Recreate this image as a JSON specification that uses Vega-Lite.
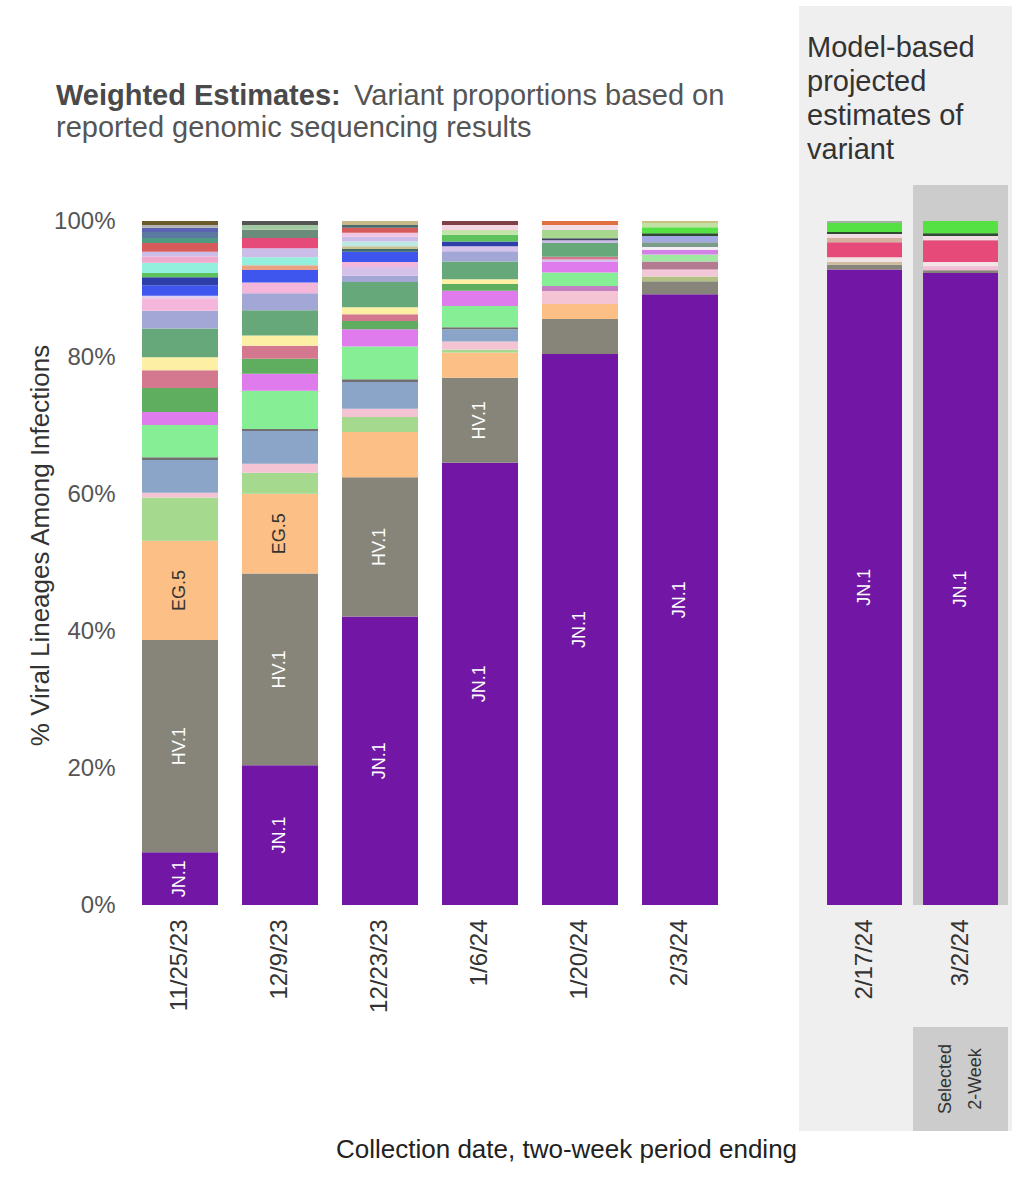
{
  "$schema": "https://vega.github.io/schema/vega-lite/v6.json",
  "background": "white",
  "padding": {"left": 27, "top": 6, "right": 0, "bottom": 8},
  "autosize": {"type": "pad"},
  "spacing": 69,
  "config": {
    "font": "Liberation Sans",
    "view": {"stroke": null},
    "axis": {"labelFont": "Liberation Sans", "titleFont": "Liberation Sans"},
    "title": {"font": "Liberation Sans", "subtitleFont": "Liberation Sans"}
  },
  "title": {"text": "Collection date, two-week period ending", "orient": "bottom", "anchor": "start", "frame": "group", "fontSize": 26, "fontWeight": "normal", "color": "#222222", "offset": 6, "dx": 206},
  "datasets": {
    "props": [
      {"date": "11/25/23", "variant": "JN.1", "pct": 7.7},
      {"date": "11/25/23", "variant": "HV.1", "pct": 31.0},
      {"date": "11/25/23", "variant": "EG.5", "pct": 14.5},
      {"date": "11/25/23", "variant": "FL.1.5.1", "pct": 6.3},
      {"date": "11/25/23", "variant": "EG.6.1", "pct": 0.7},
      {"date": "11/25/23", "variant": "HK.3", "pct": 4.8},
      {"date": "11/25/23", "variant": "XBB.1.16.6", "pct": 0.4},
      {"date": "11/25/23", "variant": "JD.1.1", "pct": 4.7},
      {"date": "11/25/23", "variant": "HF.1", "pct": 1.9},
      {"date": "11/25/23", "variant": "GK.1.1", "pct": 3.5},
      {"date": "11/25/23", "variant": "XBB.1.16", "pct": 2.6},
      {"date": "11/25/23", "variant": "XBB.2.3", "pct": 1.9},
      {"date": "11/25/23", "variant": "XBB.1.5", "pct": 4.2},
      {"date": "11/25/23", "variant": "EG.5.1.8", "pct": 2.6},
      {"date": "11/25/23", "variant": "HV.1.2", "pct": 1.8},
      {"date": "11/25/23", "variant": "XBB.1.5.70", "pct": 0.4},
      {"date": "11/25/23", "variant": "BA.2.86.1", "pct": 1.5},
      {"date": "11/25/23", "variant": "JF.1", "pct": 1.2},
      {"date": "11/25/23", "variant": "JD.1.1.1", "pct": 0.6},
      {"date": "11/25/23", "variant": "XBB.1.9.1", "pct": 1.5},
      {"date": "11/25/23", "variant": "GS.4.1", "pct": 0.9},
      {"date": "11/25/23", "variant": "DV.7.1", "pct": 0.7},
      {"date": "11/25/23", "variant": "XBB.1.42.2", "pct": 1.3},
      {"date": "11/25/23", "variant": "EG.5.1.6", "pct": 0.7},
      {"date": "11/25/23", "variant": "HK.3.2", "pct": 0.9},
      {"date": "11/25/23", "variant": "JN.1.3", "pct": 0.6},
      {"date": "11/25/23", "variant": "EG.5.1.4", "pct": 0.4},
      {"date": "11/25/23", "variant": "XBB.1.16.1", "pct": 0.6},

      {"date": "12/9/23", "variant": "JN.1", "pct": 20.5},
      {"date": "12/9/23", "variant": "HV.1", "pct": 28.1},
      {"date": "12/9/23", "variant": "EG.5", "pct": 11.7},
      {"date": "12/9/23", "variant": "FL.1.5.1", "pct": 3.1},
      {"date": "12/9/23", "variant": "EG.6.1", "pct": 1.3},
      {"date": "12/9/23", "variant": "HK.3", "pct": 4.8},
      {"date": "12/9/23", "variant": "XBB.1.16.6", "pct": 0.3},
      {"date": "12/9/23", "variant": "JD.1.1", "pct": 5.6},
      {"date": "12/9/23", "variant": "HF.1", "pct": 2.5},
      {"date": "12/9/23", "variant": "GK.1.1", "pct": 2.2},
      {"date": "12/9/23", "variant": "XBB.1.16", "pct": 1.9},
      {"date": "12/9/23", "variant": "XBB.2.3", "pct": 1.5},
      {"date": "12/9/23", "variant": "XBB.1.5", "pct": 3.7},
      {"date": "12/9/23", "variant": "EG.5.1.8", "pct": 2.5},
      {"date": "12/9/23", "variant": "HV.1.2", "pct": 1.6},
      {"date": "12/9/23", "variant": "BA.2.86.1", "pct": 1.8},
      {"date": "12/9/23", "variant": "HK.13", "pct": 0.7},
      {"date": "12/9/23", "variant": "XBB.1.9.1", "pct": 1.2},
      {"date": "12/9/23", "variant": "DV.7.1", "pct": 1.3},
      {"date": "12/9/23", "variant": "JN.1.7", "pct": 1.5},
      {"date": "12/9/23", "variant": "GE.1", "pct": 1.2},
      {"date": "12/9/23", "variant": "XBB.1.16.17", "pct": 0.7},
      {"date": "12/9/23", "variant": "XBB.1.16.15", "pct": 0.6},

      {"date": "12/23/23", "variant": "JN.1", "pct": 42.1},
      {"date": "12/23/23", "variant": "HV.1", "pct": 20.3},
      {"date": "12/23/23", "variant": "EG.5", "pct": 6.6},
      {"date": "12/23/23", "variant": "FL.1.5.1", "pct": 2.2},
      {"date": "12/23/23", "variant": "EG.6.1", "pct": 1.2},
      {"date": "12/23/23", "variant": "HK.3", "pct": 3.9},
      {"date": "12/23/23", "variant": "XBB.1.16.6", "pct": 0.4},
      {"date": "12/23/23", "variant": "JD.1.1", "pct": 4.8},
      {"date": "12/23/23", "variant": "HF.1", "pct": 2.5},
      {"date": "12/23/23", "variant": "GK.1.1", "pct": 1.2},
      {"date": "12/23/23", "variant": "XBB.1.16", "pct": 1.0},
      {"date": "12/23/23", "variant": "XBB.2.3", "pct": 1.0},
      {"date": "12/23/23", "variant": "XBB.1.5", "pct": 3.7},
      {"date": "12/23/23", "variant": "EG.5.1.8", "pct": 0.9},
      {"date": "12/23/23", "variant": "JG.3", "pct": 1.3},
      {"date": "12/23/23", "variant": "HV.1.2", "pct": 0.7},
      {"date": "12/23/23", "variant": "BA.2.86.1", "pct": 1.5},
      {"date": "12/23/23", "variant": "JD.1.1.5", "pct": 0.4},
      {"date": "12/23/23", "variant": "XBB.1.9.2", "pct": 0.4},
      {"date": "12/23/23", "variant": "EG.5.1.3", "pct": 0.7},
      {"date": "12/23/23", "variant": "DV.7.1", "pct": 0.7},
      {"date": "12/23/23", "variant": "JN.1.1", "pct": 0.6},
      {"date": "12/23/23", "variant": "XBB.1.42.2", "pct": 0.7},
      {"date": "12/23/23", "variant": "HK.3.1", "pct": 0.4},
      {"date": "12/23/23", "variant": "XBB.1.16.11", "pct": 0.6},

      {"date": "1/6/24", "variant": "JN.1", "pct": 64.6},
      {"date": "1/6/24", "variant": "HV.1", "pct": 12.4},
      {"date": "1/6/24", "variant": "EG.5", "pct": 3.7},
      {"date": "1/6/24", "variant": "FL.1.5.1", "pct": 0.4},
      {"date": "1/6/24", "variant": "EG.6.1", "pct": 1.2},
      {"date": "1/6/24", "variant": "HK.3", "pct": 1.8},
      {"date": "1/6/24", "variant": "XBB.1.16.6", "pct": 0.3},
      {"date": "1/6/24", "variant": "JD.1.1", "pct": 3.1},
      {"date": "1/6/24", "variant": "HF.1", "pct": 2.2},
      {"date": "1/6/24", "variant": "GK.1.1", "pct": 1.0},
      {"date": "1/6/24", "variant": "XBB.2.3", "pct": 0.7},
      {"date": "1/6/24", "variant": "XBB.1.5", "pct": 2.6},
      {"date": "1/6/24", "variant": "EG.5.1.8", "pct": 1.5},
      {"date": "1/6/24", "variant": "JG.3", "pct": 0.7},
      {"date": "1/6/24", "variant": "JF.1", "pct": 0.7},
      {"date": "1/6/24", "variant": "JD.1.1.1", "pct": 1.0},
      {"date": "1/6/24", "variant": "GV.1", "pct": 0.7},
      {"date": "1/6/24", "variant": "HK.20.1", "pct": 0.7},
      {"date": "1/6/24", "variant": "HK.6", "pct": 0.6},

      {"date": "1/20/24", "variant": "JN.1", "pct": 80.4},
      {"date": "1/20/24", "variant": "HV.1", "pct": 5.1},
      {"date": "1/20/24", "variant": "EG.5", "pct": 2.2},
      {"date": "1/20/24", "variant": "EG.6.1", "pct": 1.9},
      {"date": "1/20/24", "variant": "JN.1.4", "pct": 0.7},
      {"date": "1/20/24", "variant": "JD.1.1", "pct": 2.0},
      {"date": "1/20/24", "variant": "HF.1", "pct": 1.5},
      {"date": "1/20/24", "variant": "JN.1.6", "pct": 0.4},
      {"date": "1/20/24", "variant": "XBB.1.16", "pct": 0.4},
      {"date": "1/20/24", "variant": "XBB.1.5", "pct": 2.0},
      {"date": "1/20/24", "variant": "BA.2.86", "pct": 0.4},
      {"date": "1/20/24", "variant": "JN.1.11", "pct": 0.3},
      {"date": "1/20/24", "variant": "JN.1.12", "pct": 1.2},
      {"date": "1/20/24", "variant": "JN.1.9", "pct": 0.7},
      {"date": "1/20/24", "variant": "JN.1.16", "pct": 0.6},

      {"date": "2/3/24", "variant": "JN.1", "pct": 89.2},
      {"date": "2/3/24", "variant": "HV.1", "pct": 1.9},
      {"date": "2/3/24", "variant": "EG.5.1.1", "pct": 0.7},
      {"date": "2/3/24", "variant": "HK.3.14", "pct": 1.0},
      {"date": "2/3/24", "variant": "JN.1.14", "pct": 1.2},
      {"date": "2/3/24", "variant": "JN.1.15", "pct": 1.0},
      {"date": "2/3/24", "variant": "JN.1.17", "pct": 0.7},
      {"date": "2/3/24", "variant": "JN.1.19", "pct": 0.4},
      {"date": "2/3/24", "variant": "JN.1.20", "pct": 0.7},
      {"date": "2/3/24", "variant": "JN.1.21", "pct": 0.9},
      {"date": "2/3/24", "variant": "JN.1.8.1", "pct": 0.4},
      {"date": "2/3/24", "variant": "JN.1.13", "pct": 0.9},
      {"date": "2/3/24", "variant": "JN.1.22", "pct": 0.6},
      {"date": "2/3/24", "variant": "JN.1.23", "pct": 0.3},

      {"date": "2/17/24", "variant": "JN.1", "pct": 92.8},
      {"date": "2/17/24", "variant": "HV.1", "pct": 0.7},
      {"date": "2/17/24", "variant": "BA.2.86.3", "pct": 0.4},
      {"date": "2/17/24", "variant": "JN.1.2", "pct": 0.7},
      {"date": "2/17/24", "variant": "JN.1.7", "pct": 2.2},
      {"date": "2/17/24", "variant": "JN.1.8", "pct": 0.6},
      {"date": "2/17/24", "variant": "JN.1.10", "pct": 0.6},
      {"date": "2/17/24", "variant": "JN.1.8.1", "pct": 0.3},
      {"date": "2/17/24", "variant": "JN.1.13", "pct": 1.3},
      {"date": "2/17/24", "variant": "JN.1.24", "pct": 0.3},

      {"date": "3/2/24", "variant": "JN.1", "pct": 92.4},
      {"date": "3/2/24", "variant": "HV.1", "pct": 0.4},
      {"date": "3/2/24", "variant": "JN.1.5", "pct": 0.6},
      {"date": "3/2/24", "variant": "JN.1.25", "pct": 0.6},
      {"date": "3/2/24", "variant": "JN.1.7", "pct": 3.2},
      {"date": "3/2/24", "variant": "JN.1.10", "pct": 0.6},
      {"date": "3/2/24", "variant": "JN.1.8.1", "pct": 0.4},
      {"date": "3/2/24", "variant": "JN.1.13", "pct": 1.8}
    ]
  },
  "hconcat": [
    {
      "width": 600,
      "height": 684,
      "title": {
        "text": "Weighted Estimates:",
        "subtitle": ["\u200b\u00a0\u00a0\u00a0\u00a0\u00a0\u00a0\u00a0\u00a0\u00a0\u00a0\u00a0\u00a0\u00a0\u00a0\u00a0\u00a0\u00a0\u00a0\u00a0\u00a0\u00a0\u00a0\u00a0\u00a0\u00a0\u00a0\u00a0\u00a0\u00a0\u00a0\u00a0\u00a0\u00a0\u00a0\u00a0\u00a0\u00a0Variant proportions based on", "reported genomic sequencing results"],
        "anchor": "start",
        "frame": "group",
        "dx": -74,
        "fontSize": 29,
        "fontWeight": "bold",
        "color": "#4a4a4a",
        "subtitleFontSize": 29,
        "subtitleFontWeight": "normal",
        "subtitleColor": "#555555",
        "subtitleLineHeight": 32,
        "subtitlePadding": -29,
        "offset": 66
      },
      "data": {"name": "props"},
      "transform": [
        {"filter": {"field": "date", "oneOf": ["11/25/23", "12/9/23", "12/23/23", "1/6/24", "1/20/24", "2/3/24"]}},
        {"stack": "pct", "groupby": ["date"], "offset": "normalize", "as": ["s0", "s1"]},
        {"calculate": "(datum.s0 + datum.s1) / 2", "as": "mid"}
      ],
      "encoding": {
        "x": {
          "field": "date", "type": "ordinal",
          "sort": ["11/25/23", "12/9/23", "12/23/23", "1/6/24", "1/20/24", "2/3/24"],
          "scale": {"paddingInner": 0.24, "paddingOuter": 0.12},
          "axis": {"title": null, "labelAngle": -90, "labelFontSize": 24, "labelColor": "#333333", "ticks": false, "domain": false, "labelPadding": 14}
        }
      },
      "layer": [
        {
          "mark": {"type": "bar"},
          "encoding": {
            "y": {
              "field": "s0", "type": "quantitative",
              "scale": {"domain": [0, 1]},
              "axis": {"title": "% Viral Lineages Among Infections", "titleFontSize": 26, "titleFontWeight": "normal", "titleColor": "#333333", "titlePadding": 0, "titleY": 324, "values": [0, 0.2, 0.4, 0.6, 0.8, 1], "format": ".0%", "labelFontSize": 24, "labelColor": "#555555", "grid": false, "domain": false, "ticks": false, "labelPadding": 15}
            },
            "y2": {"field": "s1"},
            "color": {
              "field": "variant", "type": "nominal", "legend": null,
              "scale": {
                "domain": ["JN.1","HV.1","EG.5","FL.1.5.1","EG.6.1","JN.1.4","HK.3","XBB.1.16.6","JD.1.1","HF.1","JN.1.6","GK.1.1","XBB.1.16","XBB.2.3","XBB.1.5","BA.2.86","JN.1.11","JN.1.12","JN.1.9","JN.1.16","EG.5.1.8","JG.3","HV.1.2","XBB.1.5.70","BA.2.86.1","JD.1.1.5","XBB.1.9.2","JF.1","JD.1.1.1","GV.1","HK.20.1","HK.6","HK.13","XBB.1.9.1","EG.5.1.3","GS.4.1","DV.7.1","JN.1.1","XBB.1.42.2","HK.3.1","XBB.1.16.11","EG.5.1.6","HK.3.2","JN.1.3","EG.5.1.4","XBB.1.16.1","BA.2.86.3","JN.1.2","JN.1.5","JN.1.25","JN.1.7","JN.1.8","JN.1.10","GE.1","XBB.1.16.17","XBB.1.16.15","EG.5.1.1","HK.3.14","JN.1.14","JN.1.15","JN.1.17","JN.1.19","JN.1.20","JN.1.21","JN.1.8.1","JN.1.13","JN.1.22","JN.1.23","JN.1.24"],
                "range": ["#7217a5","#87857a","#fcbf86","#a4d98e","#f4c4d4","#c47fc0","#8aa5c8","#707070","#86ef95","#e07bee","#d8c0ec","#5fae5f","#d4788f","#fdf0a4","#67a87b","#cbbde8","#404060","#a8d890","#f2dce6","#e07040","#a3a7d6","#d6c1ea","#f4b6da","#dccfef","#3e55ee","#3b6a6b","#c9c192","#2e3ea8","#5dc25b","#c1e4a9","#f3d5e3","#7f3f45","#e9a283","#93f0dd","#bce9e2","#f0a8cc","#cbbde8","#f2c4e3","#d85b5b","#4a6a6c","#c7b88a","#4e9a82","#5b79a1","#5a62b2","#b2b2b2","#6b5a2a","#cdbd9e","#f0e4e4","#f2bfd6","#f4e4ea","#e64a79","#d4b09e","#f2dde6","#6b8b7b","#a2c8a2","#555555","#b2c182","#f2c8d8","#b27b91","#a2e8a2","#d481e8","#f4eef4","#7b9b8b","#a2a9e2","#2e4a30","#55e044","#c2e1a4","#c9c17f","#a2b2a2"]
              }
            }
          }
        },
        {
          "transform": [{"filter": "(datum.variant === 'JN.1' || datum.variant === 'HV.1' || datum.variant === 'EG.5') && datum.pct >= 7"}],
          "mark": {"type": "text", "angle": 270, "fontSize": 18, "align": "center", "baseline": "middle"},
          "encoding": {
            "y": {"field": "mid", "type": "quantitative", "scale": {"domain": [0, 1]}},
            "text": {"field": "variant"},
            "color": {"condition": {"test": "datum.variant === 'EG.5'", "value": "#333333"}, "value": "#ffffff"}
          }
        }
      ]
    },
    {
      "width": 213,
      "height": 684,
      "title": {
        "text": ["Model-based", "projected", "estimates of", "variant"],
        "anchor": "start",
        "frame": "group",
        "dx": 8,
        "fontSize": 29,
        "fontWeight": "normal",
        "color": "#333333",
        "lineHeight": 34,
        "offset": -159,
        "zindex": 1
      },
      "encoding": {
        "x": {
          "field": "date", "type": "ordinal",
          "sort": ["2/17/24", "3/2/24"],
          "scale": {"domain": ["2/17/24", "3/2/24"], "paddingInner": 0.219, "paddingOuter": 0.219, "align": 0.667},
          "axis": {"title": null, "labelAngle": -90, "labelFontSize": 24, "labelColor": "#333333", "ticks": false, "domain": false, "labelPadding": 14, "zindex": 1}
        }
      },
      "layer": [
        {
          "data": {"values": [{"panel": "projection"}]},
          "mark": {"type": "rect", "color": "#efefef", "clip": false},
          "encoding": {
            "x": {"value": 0},
            "x2": {"value": "width"},
            "y": {"datum": 1.3143, "type": "quantitative", "scale": {"domain": [0, 1]}, "axis": null},
            "y2": {"datum": -0.3304}
          }
        },
        {
          "data": {"values": [{"date": "3/2/24"}]},
          "mark": {"type": "bar", "color": "#cccccc", "width": {"band": 1.267}, "clip": false},
          "encoding": {
            "y": {"datum": 1.0526, "type": "quantitative", "scale": {"domain": [0, 1]}, "axis": null},
            "y2": {"datum": 0}
          }
        },
        {
          "data": {"values": [{"date": "3/2/24"}]},
          "mark": {"type": "bar", "color": "#cccccc", "width": {"band": 1.267}, "clip": false},
          "encoding": {
            "y": {"datum": -0.1784, "type": "quantitative", "scale": {"domain": [0, 1]}, "axis": null},
            "y2": {"datum": -0.3304}
          }
        },
        {
          "data": {"values": [{"date": "3/2/24"}]},
          "mark": {"type": "text", "angle": 270, "fontSize": 18, "lineHeight": 30, "dy": -15, "color": "#333333", "align": "center", "baseline": "middle", "clip": false},
          "encoding": {
            "y": {"datum": -0.2544, "type": "quantitative", "scale": {"domain": [0, 1]}, "axis": null},
            "text": {"value": ["Selected", "2-Week"]}
          }
        },
        {
          "data": {"name": "props"},
          "transform": [
            {"filter": {"field": "date", "oneOf": ["2/17/24", "3/2/24"]}},
            {"stack": "pct", "groupby": ["date"], "offset": "normalize", "as": ["s0", "s1"]}
          ],
          "mark": {"type": "bar"},
          "encoding": {
            "y": {"field": "s0", "type": "quantitative", "scale": {"domain": [0, 1]}, "axis": null},
            "y2": {"field": "s1"},
            "color": {
              "field": "variant", "type": "nominal", "legend": null,
              "scale": {
                "domain": ["JN.1","HV.1","EG.5","FL.1.5.1","EG.6.1","JN.1.4","HK.3","XBB.1.16.6","JD.1.1","HF.1","JN.1.6","GK.1.1","XBB.1.16","XBB.2.3","XBB.1.5","BA.2.86","JN.1.11","JN.1.12","JN.1.9","JN.1.16","EG.5.1.8","JG.3","HV.1.2","XBB.1.5.70","BA.2.86.1","JD.1.1.5","XBB.1.9.2","JF.1","JD.1.1.1","GV.1","HK.20.1","HK.6","HK.13","XBB.1.9.1","EG.5.1.3","GS.4.1","DV.7.1","JN.1.1","XBB.1.42.2","HK.3.1","XBB.1.16.11","EG.5.1.6","HK.3.2","JN.1.3","EG.5.1.4","XBB.1.16.1","BA.2.86.3","JN.1.2","JN.1.5","JN.1.25","JN.1.7","JN.1.8","JN.1.10","GE.1","XBB.1.16.17","XBB.1.16.15","EG.5.1.1","HK.3.14","JN.1.14","JN.1.15","JN.1.17","JN.1.19","JN.1.20","JN.1.21","JN.1.8.1","JN.1.13","JN.1.22","JN.1.23","JN.1.24"],
                "range": ["#7217a5","#87857a","#fcbf86","#a4d98e","#f4c4d4","#c47fc0","#8aa5c8","#707070","#86ef95","#e07bee","#d8c0ec","#5fae5f","#d4788f","#fdf0a4","#67a87b","#cbbde8","#404060","#a8d890","#f2dce6","#e07040","#a3a7d6","#d6c1ea","#f4b6da","#dccfef","#3e55ee","#3b6a6b","#c9c192","#2e3ea8","#5dc25b","#c1e4a9","#f3d5e3","#7f3f45","#e9a283","#93f0dd","#bce9e2","#f0a8cc","#cbbde8","#f2c4e3","#d85b5b","#4a6a6c","#c7b88a","#4e9a82","#5b79a1","#5a62b2","#b2b2b2","#6b5a2a","#cdbd9e","#f0e4e4","#f2bfd6","#f4e4ea","#e64a79","#d4b09e","#f2dde6","#6b8b7b","#a2c8a2","#555555","#b2c182","#f2c8d8","#b27b91","#a2e8a2","#d481e8","#f4eef4","#7b9b8b","#a2a9e2","#2e4a30","#55e044","#c2e1a4","#c9c17f","#a2b2a2"]
              }
            }
          }
        },
        {
          "data": {"name": "props"},
          "transform": [
            {"filter": {"field": "date", "oneOf": ["2/17/24", "3/2/24"]}},
            {"stack": "pct", "groupby": ["date"], "offset": "normalize", "as": ["s0", "s1"]},
            {"calculate": "(datum.s0 + datum.s1) / 2", "as": "mid"},
            {"filter": "datum.variant === 'JN.1' && datum.pct >= 7"}
          ],
          "mark": {"type": "text", "angle": 270, "fontSize": 18, "align": "center", "baseline": "middle"},
          "encoding": {
            "y": {"field": "mid", "type": "quantitative", "scale": {"domain": [0, 1]}, "axis": null},
            "text": {"field": "variant"},
            "color": {"value": "#ffffff"}
          }
        }
      ]
    }
  ]
}
